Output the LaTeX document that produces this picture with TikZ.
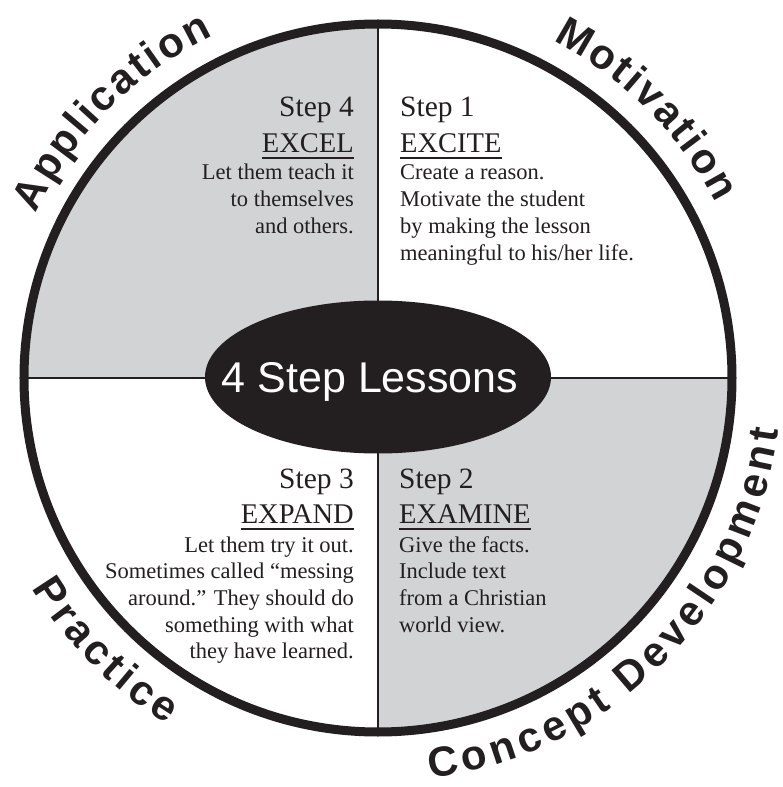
\documentclass[tikz,border=0pt]{standalone}
\usepackage{fontspec}
\setmainfont{Liberation Serif}
\newfontfamily\lblfont{Liberation Sans}
\usetikzlibrary{shapes.geometric,decorations.text}
\definecolor{ink}{RGB}{35,31,32}
\definecolor{quadgray}{RGB}{209,211,212}
\begin{document}
\begin{tikzpicture}[x=1pt,y=1pt,
  steptitle/.style={inner sep=0pt, font=\fontsize{29.5}{31}\selectfont, text=ink},
  stepname/.style={inner sep=0pt, font=\fontsize{28.5}{30}\selectfont, text=ink},
  bodytxt/.style={inner sep=0pt, font=\fontsize{22.5}{26.7}\selectfont, text=ink},
  uline/.style={draw=ink, line width=2pt},
  rim/.style={draw=ink, line width=9pt},
  divider/.style={draw=ink, line width=2.5pt},
  arclabel/.style={decorate, decoration={text along path, text align={fit to path}, text={#1}}}
]
\useasboundingbox (-378,-409) rectangle (405,378);
\fill[white] (-378,-409) rectangle (405,378);

% quadrants
\fill[quadgray] (0,0) -- (180:354) arc[start angle=180, end angle=90, radius=354] -- cycle;
\fill[quadgray] (0,0) -- (0:354) arc[start angle=0, end angle=-90, radius=354] -- cycle;

\coordinate (N) at (90:354);
\coordinate (S) at (-90:354);
\coordinate (W) at (180:354);
\coordinate (E) at (0:354);
\draw[divider] (N) -- (S);
\draw[divider] (W) -- (E);
\draw[rim] (0,0) circle[radius=354];

% centre
\node[ellipse, fill=ink, minimum width=346, minimum height=153, inner sep=0pt] (core) at (0,1) {};
\node[inner sep=0pt, anchor=base, text=white, font=\lblfont\fontsize{43}{43}\selectfont] (corelbl) at (-8,-14) {4 Step Lessons};

% Step 1
\node[steptitle, anchor=base west] (s1t) at (22,261) {Step 1};
\node[stepname, anchor=base west] (s1n) at (22,225) {EXCITE};
\draw[uline] ([yshift=-5pt]s1n.base west) -- ([yshift=-5pt]s1n.base east);
\foreach \t [count=\i] in {Create a reason., Motivate the student, by making the lesson, meaningful to his/her life.}
  \node[bodytxt, anchor=base west] (s1b\i) at (22,{198-(\i-1)*26.7}) {\t};

% Step 4
\node[steptitle, anchor=base east] (s4t) at (-24,261) {Step 4};
\node[stepname, anchor=base east] (s4n) at (-24,225) {EXCEL};
\draw[uline] ([yshift=-5pt]s4n.base west) -- ([yshift=-5pt]s4n.base east);
\foreach \t [count=\i] in {Let them teach it, to themselves, and others.}
  \node[bodytxt, anchor=base east] (s4b\i) at (-24,{198-(\i-1)*26.7}) {\t};

% Step 2
\node[steptitle, anchor=base west] (s2t) at (21,-110) {Step 2};
\node[stepname, anchor=base west] (s2n) at (21,-145) {EXAMINE};
\draw[uline] ([yshift=-6pt]s2n.base west) -- ([yshift=-6pt]s2n.base east);
\foreach \t [count=\i] in {Give the facts., Include text, from a Christian, world view.}
  \node[bodytxt, anchor=base west] (s2b\i) at (21,{-174-(\i-1)*26.7}) {\t};

% Step 3
\node[steptitle, anchor=base east] (s3t) at (-24,-110) {Step 3};
\node[stepname, anchor=base east] (s3n) at (-24,-145) {EXPAND};
\draw[uline] ([yshift=-6pt]s3n.base west) -- ([yshift=-6pt]s3n.base east);
\foreach \t [count=\i] in {Let them try it out., Sometimes called “messing, around.” They should do, something with what, they have learned.}
  \node[bodytxt, anchor=base east] (s3b\i) at (-24,{-174-(\i-1)*26.7}) {\t};

% outer labels
\path[arclabel={|\lblfont\bfseries\fontsize{42}{42}\selectfont\color{ink}|Application}]
  (154.3:380) arc[start angle=154.3, end angle=115.7, radius=380];
\path[arclabel={|\lblfont\bfseries\fontsize{42}{42}\selectfont\color{ink}|Motivation}]
  (62.6:380) arc[start angle=62.6, end angle=27.4, radius=380];
\path[arclabel={|\lblfont\bfseries\fontsize{42}{42}\selectfont\color{ink}|Concept Development}]
  (-82.6:404) arc[start angle=-82.6, end angle=-7.4, radius=404];
\path[arclabel={|\lblfont\bfseries\fontsize{42}{42}\selectfont\color{ink}|Practice}]
  (211.3:405) arc[start angle=211.3, end angle=238.7, radius=405];
\end{tikzpicture}
\end{document}
